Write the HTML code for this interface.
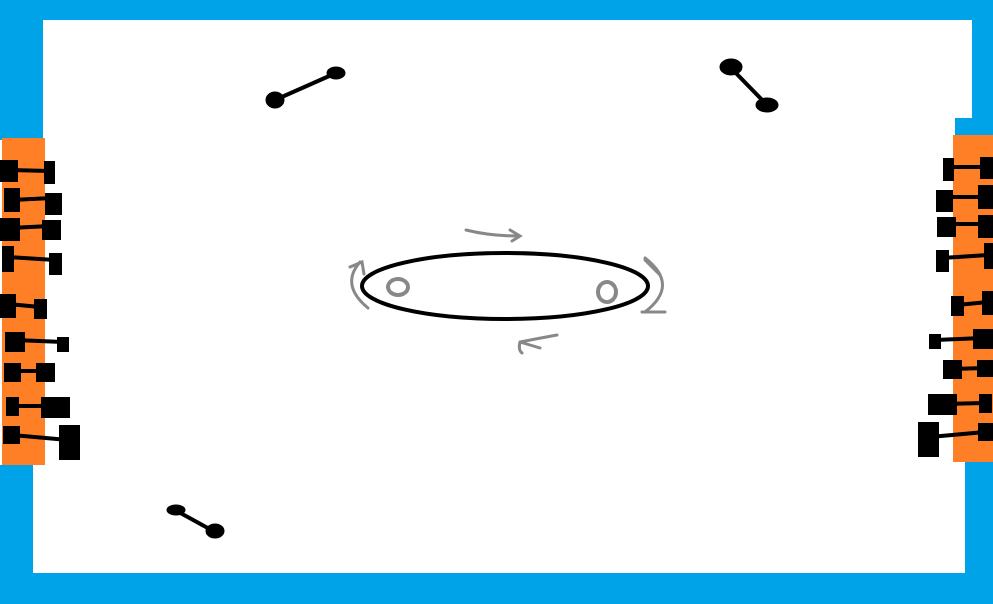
<!DOCTYPE html>
<html><head><meta charset="utf-8"><style>html,body{margin:0;padding:0;background:#fff}svg{display:block}rect{stroke:none}</style></head>
<body>
<svg width="993" height="604" viewBox="0 0 993 604" xmlns="http://www.w3.org/2000/svg">
<g fill="#00a2e8">
<rect x="0" y="0" width="993" height="20"/>
<rect x="0" y="573" width="993" height="31"/>
<rect x="0" y="0" width="43" height="140"/>
<rect x="0" y="465" width="33" height="139"/>
<rect x="972" y="0" width="21" height="120"/>
<rect x="955" y="118" width="38" height="20"/>
<rect x="965" y="462" width="28" height="142"/>
</g>
<rect x="2" y="138" width="43" height="327" fill="#ff7f27"/>
<rect x="953" y="135" width="40" height="327" fill="#ff7f27"/>
<g fill="#000" stroke="#000" stroke-width="4">
<line x1="10" y1="170" x2="50" y2="171"/><rect x="0" y="160" width="18" height="22"/><rect x="44" y="161" width="11" height="23"/>
<line x1="12" y1="200" x2="52" y2="198"/><rect x="4" y="188" width="16" height="24"/><rect x="45" y="193" width="17" height="22"/>
<line x1="10" y1="228" x2="50" y2="226"/><rect x="0" y="218" width="20" height="23"/><rect x="42" y="220" width="19" height="20"/>
<line x1="8" y1="257" x2="55" y2="260"/><rect x="2" y="246" width="12" height="26"/><rect x="49" y="253" width="13" height="22"/>
<line x1="8" y1="304" x2="40" y2="307"/><rect x="0" y="294" width="16" height="24"/><rect x="34" y="299" width="13" height="20"/>
<line x1="15" y1="340" x2="63" y2="342"/><rect x="5" y="332" width="20" height="20"/><rect x="57" y="337" width="12" height="15"/>
<line x1="12" y1="371" x2="45" y2="371"/><rect x="4" y="363" width="17" height="19"/><rect x="36" y="363" width="19" height="19"/>
<line x1="12" y1="406" x2="55" y2="406"/><rect x="6" y="397" width="13" height="19"/><rect x="41" y="397" width="29" height="21"/>
<line x1="12" y1="435" x2="68" y2="440"/><rect x="3" y="426" width="17" height="18"/><rect x="59" y="425" width="21" height="35"/>
</g>
<g fill="#000" stroke="#000" stroke-width="4">
<line x1="948" y1="167" x2="986" y2="167"/><rect x="943" y="158" width="11" height="23"/><rect x="980" y="157" width="13" height="22"/>
<line x1="945" y1="197" x2="985" y2="197"/><rect x="936" y="190" width="17" height="22"/><rect x="978" y="185" width="15" height="24"/>
<line x1="946" y1="224" x2="985" y2="224"/><rect x="937" y="217" width="19" height="20"/><rect x="978" y="215" width="15" height="23"/>
<line x1="942" y1="258" x2="988" y2="255"/><rect x="936" y="250" width="13" height="22"/><rect x="984" y="243" width="9" height="26"/>
<line x1="957" y1="305" x2="988" y2="302"/><rect x="951" y="296" width="13" height="20"/><rect x="982" y="291" width="11" height="24"/>
<line x1="935" y1="340" x2="983" y2="338"/><rect x="929" y="334" width="12" height="15"/><rect x="973" y="329" width="20" height="20"/>
<line x1="952" y1="369" x2="985" y2="368"/><rect x="943" y="360" width="19" height="19"/><rect x="977" y="360" width="16" height="17"/>
<line x1="942" y1="404" x2="985" y2="403"/><rect x="928" y="394" width="29" height="21"/><rect x="979" y="394" width="13" height="19"/>
<line x1="930" y1="437" x2="985" y2="432"/><rect x="918" y="422" width="21" height="35"/><rect x="978" y="423" width="15" height="18"/>
</g>
<g fill="#000" stroke="#000">
<line x1="275" y1="100" x2="336" y2="73" stroke-width="4"/><ellipse cx="275" cy="100" rx="9" ry="8"/><ellipse cx="336" cy="73" rx="9" ry="6"/>
<line x1="730" y1="67" x2="767" y2="105" stroke-width="4"/><ellipse cx="731" cy="67" rx="11" ry="8"/><ellipse cx="767" cy="105" rx="11" ry="7"/>
<line x1="175" y1="510" x2="215" y2="532" stroke-width="4"/><ellipse cx="176" cy="510" rx="9" ry="5"/><ellipse cx="215" cy="531" rx="9" ry="7"/>
</g>
<ellipse cx="505" cy="286" rx="143" ry="33" fill="none" stroke="#000" stroke-width="4"/>
<g fill="none" stroke="#888" stroke-width="3" stroke-linecap="round">
<path d="M466 230 Q490 236 518 236 M510 230 L520 236 L512 241"/>
<path d="M645 258 Q680 285 645 312 M642 312 L665 312 M645 260 L660 275"/>
<path d="M557 335 Q530 340 520 342 Q518 350 522 353 M520 342 L540 348"/>
<path d="M368 308 Q340 285 360 262 M350 267 L362 262 L364 274"/>
<ellipse cx="398" cy="287" rx="10" ry="8" stroke-width="4" stroke-dasharray="6 2"/>
<ellipse cx="607" cy="292" rx="9" ry="10" stroke-width="4" stroke-dasharray="6 2"/>
</g>
</svg>
</body></html>
